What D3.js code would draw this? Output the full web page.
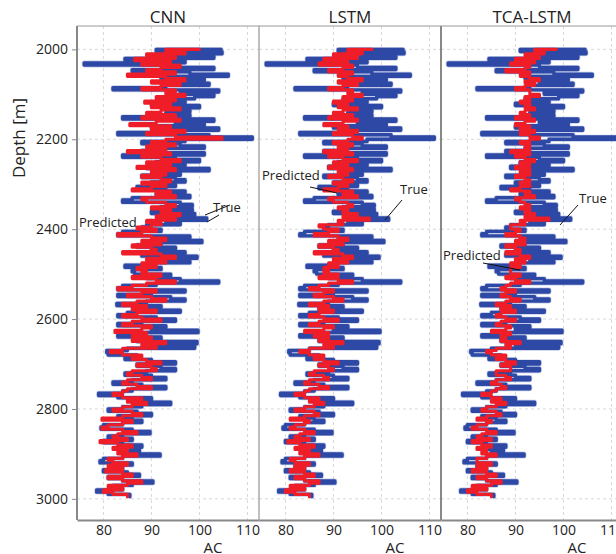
<!DOCTYPE html>
<html>
<head>
<meta charset="utf-8">
<script src="https://cdn.jsdelivr.net/npm/d3@7"></script>
<style>
  body { margin: 0; background: #fff; }
  text { font-family: "Open Sans", "Noto Sans", sans-serif; fill: #222; }
</style>
</head>
<body>
<div id="chart"></div>
<script>
// panel titles
const models = ["CNN", "LSTM", "TCA-LSTM"];
const depthTicks = [2000, 2200, 2400, 2600, 2800, 3000];
const acTicks = [80, 90, 100, 110];

// log sampled every 5 m from 2000 m to 2995 m
const depthStart = 2000, depthStep = 5;

// measured AC (same in all panels)
const trueAC = [
  104.5, 91, 104.7, 93, 103, 84.5, 97, 76, 95, 103,
  86, 98, 106, 92, 101, 95, 102, 93, 82, 104,
  96, 103, 99, 92, 97, 90, 100, 94, 98, 93,
  98, 84, 103, 95, 101, 90, 104, 93, 83, 102,
  111, 97, 88, 96, 101, 92, 88, 101, 84, 95,
  100, 91, 97, 89, 102, 92, 96, 88, 95, 97,
  90, 95, 87, 93, 97, 91, 98, 86, 84, 96,
  98.5, 92, 98.5, 90, 99, 94, 101.5, 93, 96, 89,
  88, 92, 84, 83, 98, 91, 100.5, 92, 87, 95,
  90, 97, 88, 99.5, 93, 98, 90, 84.5, 92, 86,
  86.5, 94, 89, 96, 104, 91, 84, 83, 97, 90,
  83, 94, 97, 89, 82.8, 92, 87, 96, 85, 83,
  91, 95, 88, 83, 93, 90, 99.7, 88, 83, 92,
  87, 99.5, 90, 99, 85, 80.7, 81, 87, 84.5, 90,
  95, 87, 92, 95, 89, 84.5, 90, 93, 86, 82,
  88, 93, 86, 84, 79, 83, 90, 86, 94, 88,
  84, 81, 87, 90, 83, 86, 88, 84, 80, 79.5,
  86, 89.7, 84, 81, 86, 80, 84, 88, 83, 87.5,
  85, 91.8, 84, 80, 79.3, 86, 82, 84, 80, 85,
  87.5, 81, 84, 90.3, 86, 82, 84, 78.6, 81, 85.5
];

const predCNN = [
  100, 93, 97, 89, 95, 86.5, 94, 88, 96, 92,
  89, 95, 85, 93, 97, 90, 96, 92, 88, 95,
  93, 97, 91, 95, 88.6, 94, 90, 96, 92, 89,
  95, 88, 96, 91, 85.5, 94, 90, 97, 89, 95,
  104.7, 93, 90, 95, 89, 93, 85, 94, 88, 92,
  96, 89, 94, 87, 95, 90, 93, 88, 92, 94,
  88, 93, 90, 86, 94, 91, 95, 88, 89, 93,
  95, 90, 94, 92, 96, 91, 95, 89, 92, 90,
  87, 91, 88, 83, 90, 93, 88, 92, 86, 90,
  91, 84, 92, 95, 89, 93, 88, 91, 87, 89,
  88, 92, 86, 91, 95, 89, 86, 83, 91, 88,
  85, 90, 93, 87, 84, 89, 86, 91, 87, 84,
  88, 92, 86, 84, 90, 88, 82.4, 89, 86, 90,
  86, 93, 88, 91, 84, 81.4, 84, 88, 86, 89,
  92, 87, 90, 91, 86, 85, 88, 90, 85, 84,
  87, 90, 85, 84, 82, 84, 88, 85, 89, 86,
  84, 82, 86, 88, 84, 79.7, 86, 84, 81, 79.7,
  84, 87, 83, 82, 85, 79.3, 83, 86, 82, 85,
  83, 87, 84, 81, 82, 85, 81, 84, 80.5, 84,
  86, 81, 84, 88, 85, 81, 84, 80, 82, 85
];

const predLSTM = [
  98, 93, 96, 90, 95, 88, 93, 87, 94, 92,
  89, 94, 91, 93, 96, 91, 95, 92, 89, 94,
  93, 96, 92, 94, 90, 93, 91, 95, 92, 90,
  94, 89, 95, 92, 88, 93, 91, 95, 90, 94,
  96, 93, 90, 94, 91, 93, 88, 94, 89, 92,
  95, 90, 93, 89, 94, 91, 93, 89, 92, 94,
  90, 93, 91, 88, 94, 92, 95, 89, 90, 93,
  94, 91, 93, 92, 95, 92, 97.5, 91, 92, 87,
  88, 91, 89, 86, 91, 93, 89, 92, 87, 90,
  91, 86, 92, 94, 90, 93, 89, 91, 88, 89,
  88, 91, 87, 91, 94, 89, 87, 85, 90, 88,
  86, 90, 92, 88, 85, 89, 87, 90, 87, 85,
  88, 91, 87, 85, 90, 88, 84, 89, 86, 89,
  87, 92, 88, 90, 85, 83, 85, 88, 86, 88,
  91, 87, 89, 90, 86, 85, 88, 89, 85, 84,
  87, 89, 85, 84, 82, 84, 87, 85, 88, 86,
  84, 82, 86, 87, 84, 81, 85, 84, 82, 81,
  84, 86, 83, 82, 85, 80.5, 83, 86, 82, 85,
  83, 87, 84, 81, 82, 85, 82, 84, 81, 84,
  86, 82, 84, 87, 85, 81, 84, 80, 82, 85
];

const predTCA = [
  98.5, 94, 96, 92, 95, 90, 94, 89, 93, 92,
  88, 93, 91, 93, 95, 92, 94, 92, 90, 93,
  93, 95, 92, 93, 91, 93, 92, 94, 92, 91,
  93, 90, 94, 92, 90, 93, 91, 94, 91, 93,
  95, 93, 91, 93, 92, 93, 89, 93, 90, 92,
  94, 91, 93, 90, 93, 91, 93, 90, 92, 93,
  91, 93, 91, 89, 93, 92, 94, 90, 91, 92,
  93, 91, 93, 92, 94, 92, 97, 91, 92, 89,
  89, 91, 90, 88, 91, 92, 90, 92, 88, 90,
  91, 88, 91, 93, 90, 92, 89, 91, 89, 89,
  89, 91, 88, 90, 93, 89, 88, 87, 90, 88,
  87, 89, 91, 88, 86, 89, 87, 90, 87, 86,
  88, 90, 87, 86, 89, 88, 85, 89, 87, 88,
  87, 91, 88, 89, 86, 84, 85, 88, 86, 88,
  90, 87, 89, 89, 86, 86, 88, 89, 86, 85,
  87, 88, 86, 85, 83, 85, 87, 85, 88, 86,
  84, 83, 86, 87, 84, 82, 85, 84, 82, 81,
  84, 86, 83, 82, 85, 81, 83, 85, 82, 84,
  83, 86, 84, 82, 82, 85, 82, 84, 81, 84,
  86, 82, 84, 87, 85, 81, 84, 80, 82, 85
];

const predicted = [predCNN, predLSTM, predTCA];

// annotation text position and leader line, per panel (panel-local pixels)
const notes = [
  [["Predicted", 2, 227, 128, 215, 153, 205], ["True", 136, 212, 142, 215, 130, 222]],
  [["Predicted", 3, 180, 51, 187, 78, 193], ["True", 141, 194, 143, 200, 126, 220]],
  [["True", 138, 203, 137, 205, 119, 225], ["Predicted", 2, 260, 42, 263, 79, 270]]
];

const W = 616, H = 554;
const MARGIN = { TOP: 26, LEFT: 77 };
const PANEL_W = 182;
const PLOT_BOTTOM = 520;

const svg = d3.select("#chart").append("svg")
  .attr("width", W)
  .attr("height", H);

const y = d3.scaleLinear()
  .domain([1948, 3047])
  .range([MARGIN.TOP, PLOT_BOTTOM]);

const x = d3.scaleLinear()
  .domain([74.5, 112.4])
  .range([0, PANEL_W]);

const depths = trueAC.map((_, i) => depthStart + i * depthStep);

// well-log look: value changes at constant depth, then steps down
const line = d3.line()
  .x(d => x(d[1]))
  .y(d => y(d[0]))
  .curve(d3.curveStepAfter);

models.forEach((name, p) => {
  const g = svg.append("g")
    .attr("transform", `translate(${MARGIN.LEFT + p * PANEL_W}, 0)`);

  g.append("clipPath").attr("id", "clip" + p)
    .append("rect")
    .attr("x", 0).attr("y", MARGIN.TOP)
    .attr("width", PANEL_W).attr("height", PLOT_BOTTOM - MARGIN.TOP);

  // grid
  g.selectAll(".vgrid").data(acTicks).enter().append("line")
    .attr("x1", d => x(d)).attr("x2", d => x(d))
    .attr("y1", MARGIN.TOP).attr("y2", PLOT_BOTTOM)
    .attr("stroke", "#d8d8d8").attr("stroke-width", 1)
    .attr("stroke-dasharray", "3,3");
  g.selectAll(".hgrid").data(depthTicks).enter().append("line")
    .attr("x1", 0).attr("x2", PANEL_W)
    .attr("y1", d => y(d)).attr("y2", d => y(d))
    .attr("stroke", "#d8d8d8").attr("stroke-width", 1)
    .attr("stroke-dasharray", "3,3");

  const plot = g.append("g").attr("clip-path", `url(#clip${p})`);

  const trueData = depths.map((d, i) => [d, trueAC[i]]);
  const predData = depths.map((d, i) => [d, predicted[p][i]]);

  plot.append("path")
    .attr("d", line(trueData))
    .attr("fill", "none")
    .attr("stroke", "#7d8dcc")
    .attr("stroke-width", 4.8)
    .attr("stroke-opacity", 0.45)
    .attr("stroke-linejoin", "round")
    .attr("stroke-linecap", "round");
  plot.append("path")
    .attr("d", line(trueData))
    .attr("fill", "none")
    .attr("stroke", "#2d48a5")
    .attr("stroke-width", 3.4)
    .attr("stroke-linejoin", "round")
    .attr("stroke-linecap", "round");
  plot.append("path")
    .attr("d", line(predData))
    .attr("fill", "none")
    .attr("stroke", "#ef1d27")
    .attr("stroke-width", 3.1)
    .attr("stroke-linejoin", "round")
    .attr("stroke-linecap", "round");

  // frame
  g.append("line")
    .attr("x1", 0).attr("x2", 0)
    .attr("y1", MARGIN.TOP).attr("y2", PLOT_BOTTOM)
    .attr("stroke", p === 1 ? "#aaa" : "#888")
    .attr("stroke-width", p === 1 ? 1.5 : 2);
  g.append("line")
    .attr("x1", 0).attr("x2", PANEL_W)
    .attr("y1", MARGIN.TOP).attr("y2", MARGIN.TOP)
    .attr("stroke", "#999").attr("stroke-width", 1.2);

  // x axis
  const xAxis = d3.axisBottom(x).tickValues(acTicks).tickSize(0).tickPadding(5);
  const xa = g.append("g")
    .attr("transform", `translate(0, ${PLOT_BOTTOM})`)
    .call(xAxis);
  xa.select(".domain").attr("stroke", "#888").attr("stroke-width", 2);
  xa.selectAll("text")
    .style("font-size", "14px")
    .style("font-family", "'Open Sans', sans-serif")
    .attr("fill", "#222");

  g.append("text")
    .attr("x", 136)
    .attr("y", 553)
    .attr("text-anchor", "middle")
    .style("font-size", "15px")
    .text("AC");

  g.append("text")
    .attr("x", PANEL_W / 2)
    .attr("y", 23)
    .attr("text-anchor", "middle")
    .style("font-size", "17px")
    .text(name);

  // annotations
  notes[p].forEach(n => {
    g.append("text")
      .attr("x", n[1])
      .attr("y", n[2])
      .style("font-size", "13px")
      .text(n[0]);
    g.append("line")
      .attr("x1", n[3]).attr("y1", n[4])
      .attr("x2", n[5]).attr("y2", n[6])
      .attr("stroke", "#111").attr("stroke-width", 1);
  });

  if (p === 0) {
    const yAxis = d3.axisLeft(y).tickValues(depthTicks).tickSize(5).tickPadding(4)
      .tickFormat(d3.format("d"));
    const ya = g.append("g").call(yAxis);
    ya.select(".domain").remove();
    ya.selectAll(".tick line").attr("stroke", "#888");
    ya.selectAll("text")
      .style("font-size", "14px")
      .style("font-family", "'Open Sans', sans-serif")
      .attr("fill", "#222");
  }
});

svg.append("text")
  .attr("transform", "translate(25, 138) rotate(-90)")
  .attr("text-anchor", "middle")
  .style("font-size", "17px")
  .text("Depth [m]");
</script>
</body>
</html>
